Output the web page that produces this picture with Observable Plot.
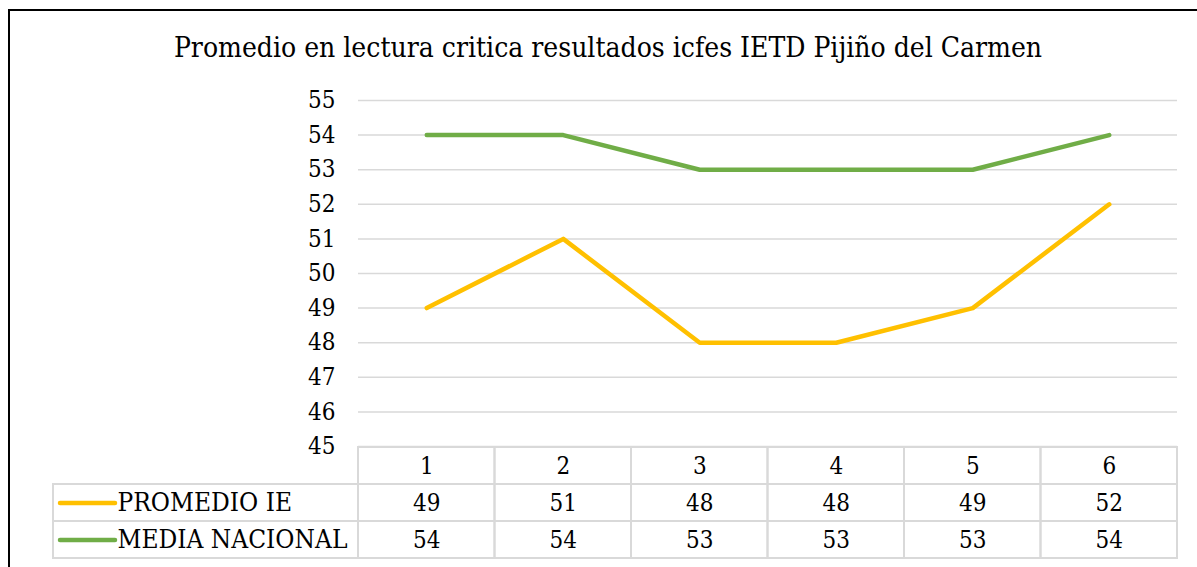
<!DOCTYPE html>
<html>
<head>
<meta charset="utf-8">
<script src="https://cdn.jsdelivr.net/npm/d3@7"></script>
<script src="https://cdn.jsdelivr.net/npm/@observablehq/plot@0.6"></script>
<style>
  html, body { margin: 0; padding: 0; background: #fff; }
  #wrap { position: relative; width: 1197px; height: 567px; overflow: hidden; background: #fff; }
  #frame { position: absolute; left: 7.5px; top: 9px; width: 1300px; height: 700px; border-left: 2.5px solid #000; border-top: 2.5px solid #000; }
  #title { position: absolute; left: 0; top: 31px; width: 1216px; text-align: center; font-size: 28px; color: #000; white-space: nowrap; font-family: "DejaVu Serif Condensed", "DejaVu Serif", serif; }
  .layer { position: absolute; left: 0; top: 0; }
</style>
</head>
<body>
<div id="wrap">
  <div id="frame"></div>
  <div id="title">Promedio en lectura critica resultados icfes IETD Pijiño del Carmen</div>
  <div id="chart" class="layer"></div>
  <div id="table" class="layer"></div>
</div>
<script>
// ---- data ----
const periods = [1, 2, 3, 4, 5, 6];
const seriesNames = ["PROMEDIO IE", "MEDIA NACIONAL"];
const promedioIE = [49, 51, 48, 48, 49, 52];
const mediaNacional = [54, 54, 53, 53, 53, 54];
const yTicks = [45, 46, 47, 48, 49, 50, 51, 52, 53, 54, 55];
const colors = ["#FFC000", "#70AD47"];

const data = [
  ...periods.map((p, i) => ({period: p, series: seriesNames[0], value: promedioIE[i]})),
  ...periods.map((p, i) => ({period: p, series: seriesNames[1], value: mediaNacional[i]}))
];

// ---- layout ----
const W = 1197, H = 567;
const plotLeft = 358, plotRight = 1177;
const colW = (plotRight - plotLeft) / periods.length;
const u = px => 0.5 + (px - plotLeft) / colW; // pixel -> x units (layout helper)
const font = "'DejaVu Serif Condensed', 'DejaVu Serif', serif";

const chart = Plot.plot({
  width: W, height: H,
  marginLeft: plotLeft, marginRight: W - plotRight, marginTop: 100, marginBottom: H - 446,
  x: {domain: [0.5, 6.5], axis: null},
  y: {domain: [45, 55], axis: null},
  color: {domain: seriesNames, range: colors},
  style: {fontFamily: font, background: "transparent", color: "#000"},
  marks: [
    Plot.ruleY(yTicks, {stroke: "#d9d9d9", strokeWidth: 1.5}),
    Plot.axisY(yTicks, {tickSize: 0, tickPadding: 23, fontSize: 24, tickFormat: d => String(d), label: null, fill: "#000"}),
    Plot.line(data, {x: "period", y: "value", z: "series", stroke: "series", strokeWidth: 4.5, strokeLinecap: "round", strokeLinejoin: "round"})
  ]
});
document.getElementById("chart").appendChild(chart);

const rows = ["hdr", ...seriesNames];
const legLeft = u(53);
const table = Plot.plot({
  width: W, height: H,
  marginLeft: plotLeft, marginRight: W - plotRight, marginTop: 0, marginBottom: 0,
  x: {domain: [0.5, 6.5], axis: null},
  y: {type: "band", domain: rows, range: [446, 559], padding: 0, axis: null},
  color: {domain: seriesNames, range: colors},
  style: {fontFamily: font, background: "transparent", color: "#000"},
  marks: [
    Plot.barX(rows.flatMap(r => periods.map(p => ({r, p}))), {x1: d => d.p - 0.5, x2: d => d.p + 0.5, y: "r", fill: "none", stroke: "#d9d9d9", strokeWidth: 2}),
    Plot.barX(seriesNames, {x1: () => legLeft, x2: () => 0.5, y: d => d, fill: "none", stroke: "#d9d9d9", strokeWidth: 2}),
    Plot.text(periods, {x: d => d, y: () => "hdr", text: d => String(d), fontSize: 24, fill: "#000"}),
    Plot.text(data, {x: "period", y: "series", text: d => String(d.value), fontSize: 24, fill: "#000"}),
    Plot.ruleY(seriesNames, {y: d => d, x1: () => u(60), x2: () => u(115), stroke: d => d, strokeWidth: 4.5, strokeLinecap: "round"}),
    Plot.text(seriesNames, {x: () => u(117), y: d => d, text: d => d, textAnchor: "start", fontSize: 26, fill: "#000"})
  ]
});
document.getElementById("table").appendChild(table);
</script>
</body>
</html>
